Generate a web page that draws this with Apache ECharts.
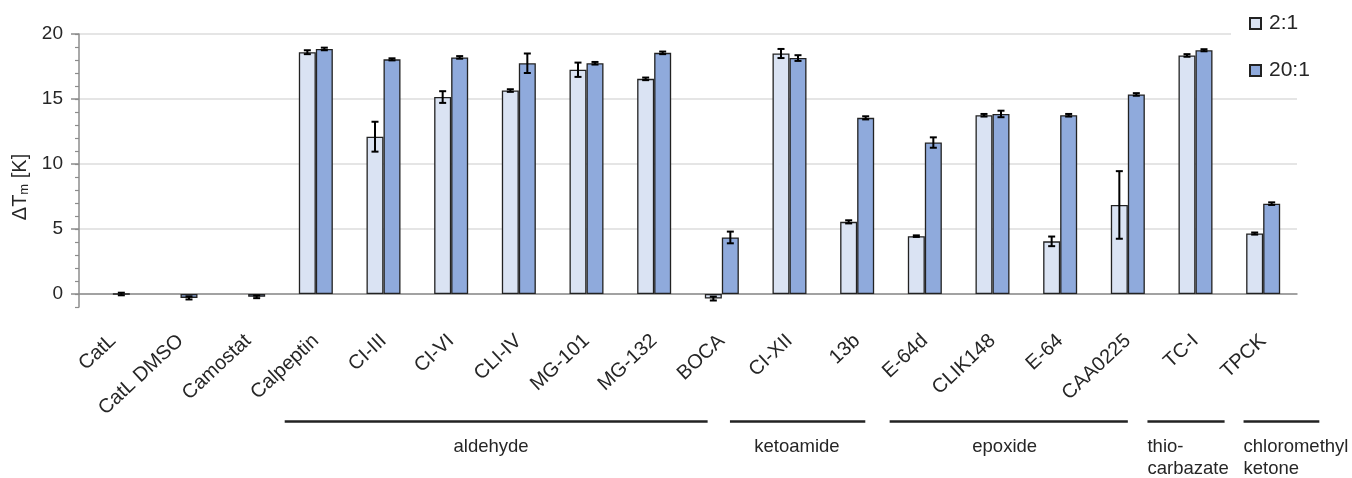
<!DOCTYPE html>
<html>
<head>
<meta charset="utf-8">
<script src="https://cdn.jsdelivr.net/npm/echarts@6/dist/echarts.min.js"></script>
<style>
html,body{margin:0;padding:0;background:#fff;}
#chart{width:1352px;height:478px;}
</style>
</head>
<body>
<div id="chart"></div>
<script>
// ---- data ----
const categories = ['CatL','CatL DMSO','Camostat','Calpeptin','CI-III','CI-VI','CLI-IV','MG-101','MG-132','BOCA','CI-XII','13b','E-64d','CLIK148','E-64','CAA0225','TC-I','TPCK'];
const seriesNames = ['2:1','20:1'];
const ratio2 = [null,null,null,18.6,12.1,15.15,15.65,17.25,16.55,-0.35,18.5,5.55,4.45,13.75,4.05,6.85,18.35,4.65];
const ratio2Err = [0,0,0,0.15,1.15,0.45,0.1,0.55,0.1,0.15,0.35,0.12,0.06,0.1,0.37,2.6,0.1,0.08];
const ratio20 = [0,-0.3,-0.22,18.85,18.05,18.2,17.75,17.75,18.55,4.35,18.15,13.55,11.65,13.85,13.75,15.35,18.75,6.95];
const ratio20Err = [0.1,0.12,0.1,0.1,0.08,0.1,0.75,0.1,0.1,0.45,0.22,0.12,0.4,0.25,0.1,0.1,0.08,0.1];
const yMajorTicks = [0,5,10,15,20];
const yMinorTicks = [-1,0,1,2,3,4,5,6,7,8,9,10,11,12,13,14,15,16,17,18,19,20];
const groupNames = ['aldehyde','ketoamide','epoxide','thio-\ncarbazate','chloromethyl\nketone'];

// ---- layout (category units: 0 = left edge of plot) ----
const groupLayout = [
  {start:3.04, end:9.29, label:6.09, align:'center'},
  {start:9.62, end:11.62, label:10.61, align:'center'},
  {start:11.98, end:15.5, label:13.68, align:'center'},
  {start:15.79, end:16.93, label:15.79, align:'left'},
  {start:17.21, end:18.33, label:17.21, align:'left'}
];
const BAR_W = 17, CAP = 3.5;
const FONT = '"Liberation Sans", Arial, sans-serif';
const TXT = '#262626';

const chart = echarts.init(document.getElementById('chart'), null, {renderer:'canvas'});

function errSeries(name, vals, errs, sign) {
  const data = [];
  vals.forEach((v,i) => { if (v !== null) data.push([i, v, errs[i]]); });
  return {
    name: name, type: 'custom', z: 5, data: data,
    encode: {x: 0, y: 1},
    renderItem: function (params, api) {
      const i = api.value(0), v = api.value(1), e = api.value(2);
      const c = api.coord([i, v]);
      const hi = api.coord([i, v + e]);
      const lo = api.coord([i, v - e]);
      const x = c[0] + sign * BAR_W / 2;
      const st = {stroke:'#000', lineWidth:2};
      return {type:'group', children:[
        {type:'line', shape:{x1:x, y1:hi[1], x2:x, y2:lo[1]}, style:st},
        {type:'line', shape:{x1:x-CAP, y1:hi[1], x2:x+CAP, y2:hi[1]}, style:st},
        {type:'line', shape:{x1:x-CAP, y1:lo[1], x2:x+CAP, y2:lo[1]}, style:st}
      ]};
    }
  };
}

const option = {
  animation: false,
  grid: {left:79, right:55, top:34, bottom:171, containLabel:false, outerBoundsMode:'none'},
  legend: {
    data: seriesNames, orient:'vertical', left:1231, top:7,
    padding:[6,10,6,18], backgroundColor:'#fff',
    icon:'rect', itemWidth:11, itemHeight:11, itemGap:26,
    textStyle:{fontFamily:FONT, fontSize:21, color:TXT, padding:[0,0,0,3]}
  },
  xAxis: {
    type:'category', data:categories,
    axisLine:{show:true, onZero:true, lineStyle:{color:'#8c8c8c', width:1.5}},
    axisTick:{show:false},
    axisLabel:{interval:0, rotate:43, margin:31, fontFamily:FONT, fontSize:20, color:TXT},
    splitLine:{show:false}
  },
  yAxis: [
    {
      type:'value', min:-1, max:20, position:'left',
      axisLine:{show:true, lineStyle:{color:'#8c8c8c', width:1.5}},
      axisTick:{show:true, length:8, customValues:yMajorTicks, lineStyle:{color:'#8c8c8c', width:1.5}},
      axisLabel:{customValues:yMajorTicks, margin:16, fontFamily:FONT, fontSize:19, color:TXT},
      splitLine:{show:true, lineStyle:{color:'#dcdcdc', width:1.5}},
      minorTick:{show:false},
      name:'{t|ΔT}{s|m}{t| [K]}', nameLocation:'middle', nameGap:37, nameRotate:90,
      nameTextStyle:{padding:[0,33,0,0], rich:{
        t:{fontFamily:FONT, fontSize:20, color:TXT},
        s:{fontFamily:FONT, fontSize:13, color:TXT, verticalAlign:'bottom', padding:[6,0,0,0]}
      }}
    },
    {
      type:'value', min:-1, max:20, position:'left',
      axisLine:{show:false},
      axisTick:{show:true, length:4, customValues:yMinorTicks, lineStyle:{color:'#8c8c8c', width:1.2}},
      axisLabel:{show:false},
      splitLine:{show:false}
    }
  ],
  series: [
    {name:seriesNames[0], type:'bar', data:ratio2, barWidth:BAR_W, barGap:'0%',
     itemStyle:{color:'#dae3f3', borderColor:'#222', borderWidth:1.3}},
    {name:seriesNames[1], type:'bar', data:ratio20, barWidth:BAR_W, barGap:'0%',
     itemStyle:{color:'#8faadc', borderColor:'#222', borderWidth:1.3}},
    errSeries('err2', ratio2, ratio2Err, -1),
    errSeries('err20', ratio20, ratio20Err, 1)
  ]
};
chart.setOption(option);

// group brackets below the category labels
const c0 = chart.convertToPixel({xAxisIndex:0}, 0);
const c1 = chart.convertToPixel({xAxisIndex:0}, 1);
const band = c1 - c0;
const px = u => c0 + (u - 0.5) * band;
const LINE_Y = 421.5, LABEL_Y = 436;
const graphics = [];
groupLayout.forEach((g, k) => {
  graphics.push({type:'line', shape:{x1:px(g.start), y1:LINE_Y, x2:px(g.end), y2:LINE_Y},
    style:{stroke:'#222', lineWidth:2.4}});
  graphics.push({type:'text', x:px(g.label), y:LABEL_Y,
    style:{text:groupNames[k], font:'18.5px ' + FONT, fill:TXT, lineHeight:22,
      align:g.align, textAlign:g.align, verticalAlign:'top', textVerticalAlign:'top'}});
});
chart.setOption({graphic: graphics});
</script>
</body>
</html>
